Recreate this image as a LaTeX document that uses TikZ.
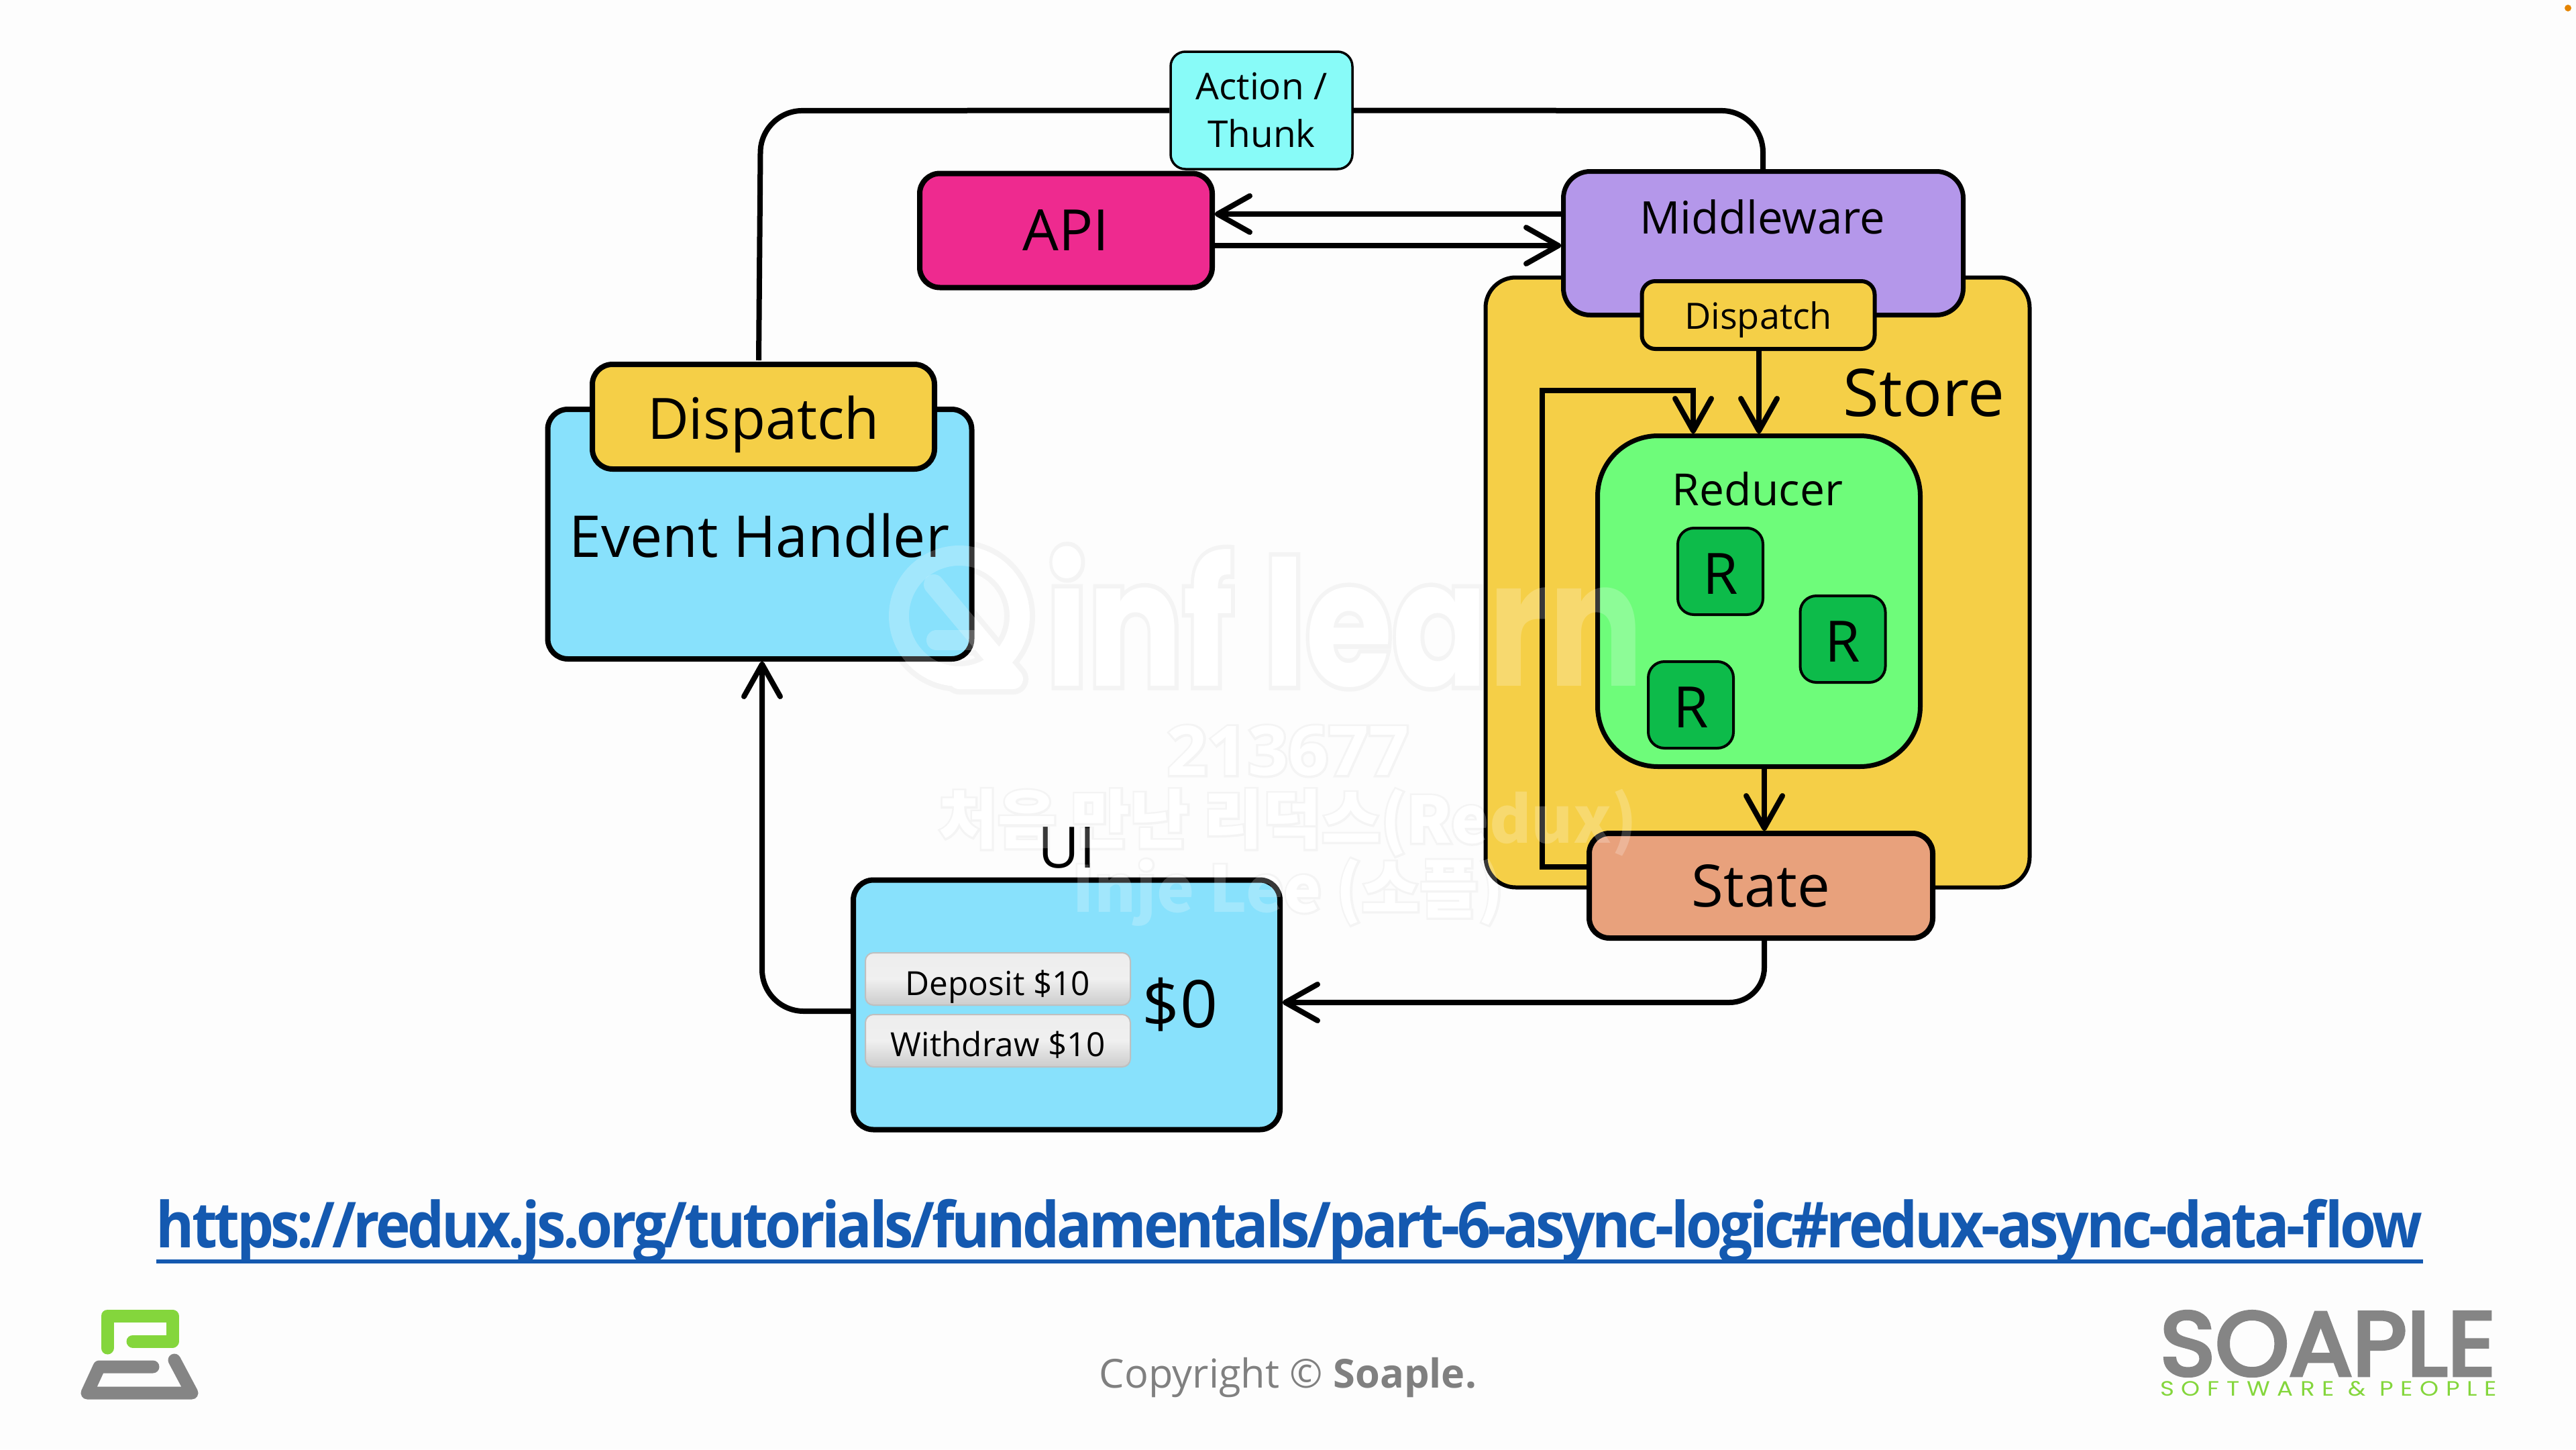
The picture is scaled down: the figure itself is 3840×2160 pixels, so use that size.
\documentclass[tikz,border=0pt]{standalone}
\usepackage{fontspec}
\setmainfont{Open Sans}
\newfontfamily\wmfont{Poppins}
\newfontfamily\wmhalo[BoldFeatures={FakeBold=5}]{Poppins}
\newfontfamily\krfont{Noto Sans CJK KR}
\newfontfamily\krhalo[BoldFeatures={FakeBold=6}]{Noto Sans CJK KR}
\newfontfamily\ophalo[BoldFeatures={FakeBold=6}]{Open Sans}
\newfontfamily\urlfont[LetterSpace=-5]{Open Sans}
\newfontfamily\sloganfont[LetterSpace=30]{Poppins}
\newfontfamily\soaplefont[FakeBold=4]{Poppins}
\usetikzlibrary{arrows.meta}
\definecolor{bgc}{HTML}{FDFDFD}
\definecolor{skyc}{HTML}{88E1FC}
\definecolor{yelc}{HTML}{F5CF47}
\definecolor{cyanc}{HTML}{88FBF8}
\definecolor{pinkc}{HTML}{EE2A8F}
\definecolor{purc}{HTML}{B497EA}
\definecolor{grnc}{HTML}{6EFC7A}
\definecolor{dgrnc}{HTML}{0DBB4A}
\definecolor{orgc}{HTML}{E8A17C}
\definecolor{urlc}{HTML}{1459B0}
\definecolor{logog}{HTML}{84D63C}
\definecolor{logoh}{HTML}{858585}
\definecolor{haloc}{HTML}{F4F4F4}
\newcommand\fsz[1]{\fontsize{#1pt}{1.2\dimexpr#1pt\relax}\selectfont}
% the four watermark lines; #1 is the text style, #2 #3 #4 the fonts, #5 the stroke of the mark
\newcommand\wmtexts[5]{%
 \draw[#1,line width=#5pt,line cap=round,line join=round,fill=none] (1430,918) circle (90pt);
 \draw[#1,line width=#5pt,line cap=round,line join=round] (1392,871) -- (1510,1012) -- (1430,1012);
 \draw[#1,line width=#5pt,line cap=round] (1396,954) -- (1450,954);
 \node[#1,inner sep=0pt] at (2005,919) {\resizebox{890pt}{208pt}{#2\bfseries inf learn}};
 \node[#1,inner sep=0pt] at (1920,1119) {\resizebox{360pt}{74pt}{#3\bfseries 213677}};
 \node[#1,inner sep=0pt] at (1920,1226) {\resizebox{1040pt}{!}{#4\bfseries 처음 만난 리덕스(Redux)}};
 \node[#1,inner sep=0pt] at (1920,1330) {\resizebox{643pt}{!}{#4\bfseries Inje Lee (소플)}};
}
\tikzset{
 box/.style={draw=black,rounded corners=#1,line width=8pt,inner sep=0pt,align=center,text=black},
 box/.default=30pt,
 lbl/.style={inner sep=0pt,text=black,align=center},
 btn/.style={draw=black!25,line width=2pt,rounded corners=12pt,inner sep=0pt,minimum width=395pt,minimum height=78pt,
   top color=white!93!black,bottom color=black!20,middle color=black!6,text=black,font=\fsz{49.5}},
 rbox/.style={draw=black,line width=4pt,rounded corners=24pt,fill=dgrnc,minimum width=127pt,minimum height=129pt,inner sep=0pt,font=\fsz{85},text=black,text height=67pt,text depth=0pt},
 con/.style={line width=8pt,draw=black},
 arr/.style={con,-{Straight Barb[length=48pt,width=54pt,round]}},
}
\begin{document}
\begin{tikzpicture}[x=1pt,y=-1pt]
\useasboundingbox (0,0) rectangle (3840,2160);
\fill[bgc] (0,0) rectangle (3840,2160);
\fill[orange!85!yellow!90!black] (3828,12) circle (5pt);
% watermark: soft surround and body on the page
\wmtexts{color=haloc,text=haloc}{\wmhalo}{\ophalo}{\krhalo}{46}
\wmtexts{color=white,text=white}{\wmfont}{}{\krfont}{30}
% Event handler
\node[box,fill=skyc,minimum width=632pt,minimum height=372pt] (evt) at (1132.5,796) {};
\node[box,fill=yelc,minimum width=510pt,minimum height=156pt,font=\fsz{85},text height=87pt,text depth=20pt] (dsp) at (1138,621) {Dispatch};
\node[lbl,font=\fsz{86}] (evtl) at (1132,798) {Event Handler};
% Store
\node[box=45pt,fill=yelc,line width=6pt,minimum width=811pt,minimum height=909pt] (store) at (2620,868) {};
\node[lbl,font=\fsz{98}] (storel) at (2868,585) {Store};
% Middleware
\node[box=40pt,fill=purc,line width=7pt,minimum width=596pt,minimum height=214pt] (mw) at (2628.5,362.5) {};
\node[lbl,font=\fsz{67}] (mwl) at (2627,323) {Middleware};
\node[box=20pt,fill=yelc,line width=6pt,minimum width=347pt,minimum height=101pt,font=\fsz{54},text height=55pt,text depth=13pt] (dsp2) at (2621,469.5) {Dispatch};
% API and action
\node[box,fill=pinkc,minimum width=436pt,minimum height=170pt,font=\fsz{85}] (api) at (1589,343.5) {API};
\node[box=22pt,fill=cyanc,line width=3.5pt,minimum width=271pt,minimum height=175pt,font=\fsz{55}] (act) at (1880.5,164.5) {Action /\\[5pt]Thunk};
% Reducer
\node[box=90pt,fill=grnc,line width=7pt,minimum width=481pt,minimum height=493pt] (red) at (2622,896) {};
\node[lbl,font=\fsz{66}] (redl) at (2620,729) {Reducer};
\node[rbox] (r1) at (2564.5,851.5) {R};
\node[rbox] (r2) at (2747,952.5) {R};
\node[rbox] (r3) at (2520.5,1050.5) {R};
% State
\node[box,fill=orgc,minimum width=512pt,minimum height=156pt,font=\fsz{87}] (state) at (2625,1320) {State};
% UI
\node[box,fill=skyc,minimum width=636pt,minimum height=372pt] (ui) at (1590,1497.5) {};
\node[lbl,font=\fsz{85}] (uil) at (1590,1264) {UI};
\node[btn,text height=60pt,text depth=12pt] (b1) at (1487.5,1459) {Deposit \$10};
\node[btn,text height=54pt,text depth=7pt] (b2) at (1487.5,1551) {Withdraw \$10};
\node[lbl,font=\fsz{98}] (bal) at (1759,1497) {\$0};
% connector way points
\coordinate (c1) at (1134,165);
\coordinate (c2) at (1131,537);
\coordinate (c3) at (2628,165);
\coordinate (c4) at (2628,255);
\coordinate (yup) at (0,319);
\coordinate (ydn) at (0,366);
\coordinate (xrd) at (2622,0);
\coordinate (xfb) at (2524,0);
\coordinate (c5) at (2299,582);
\coordinate (c6) at (2299,1292);
\coordinate (c7) at (2524,582);
\coordinate (xst) at (2630,0);
\coordinate (xev) at (1136,0);
\coordinate (yui) at (0,1507);
\coordinate (ybal) at (0,1494);
\coordinate (c8) at (1136,1507);
\coordinate (c9) at (2630,1494);
% connectors
\draw[con,rounded corners=62pt] (act.west) -- (c1) -- (c2);
\draw[con,rounded corners=62pt] (act.east) -- (c3) -- (c4);
\draw[arr] (mw.west |- yup) -- (api.east |- yup);
\draw[arr] (api.east |- ydn) -- (mw.west |- ydn);
\draw[arr] (dsp2.south -| xrd) -- (red.north -| xrd);
\draw[arr] (state.west |- c6) -- (c6) -- (c5) -- (c7) -- (red.north -| xfb);
\draw[arr] (red.south -| xst) -- (state.north -| xst);
\draw[arr,rounded corners=52pt] (state.south -| xst) -- (c9) -- (ui.east |- ybal);
\draw[arr,rounded corners=62pt] (ui.west |- yui) -- (c8) -- (evt.south -| xev);
% link
\node[inner sep=0pt,text=urlc,font=\urlfont\bfseries\fsz{104}] (url) at (1922,1835) {\resizebox*{3378pt}{95pt}{https://redux.js.org/tutorials/fundamentals/part-6-async-logic\#redux-async-data-flow}};
\coordinate (ulstart) at (233,1880);
\coordinate (ulend) at (3612,1880);
\draw[urlc,line width=6pt] (ulstart) -- (ulend);
% footer
\node[inner sep=0pt,text=black!50,font=\fsz{59.5}] (copy) at (1920,2053) {Copyright © \textbf{Soaple.}};
\draw[logog,line width=19pt,line cap=round,line join=round] (160,2009) -- (160,1961) -- (257,1961) -- (257,1999) -- (198,1999);
\draw[logoh,line width=19pt,line cap=round,line join=round] (228,2037) -- (148,2037) -- (130,2076) -- (286,2076) -- (260,2027);
\node[inner sep=0pt,text=logoh,font=\soaplefont] (soaple) at (3470,2002.5) {\resizebox{500pt}{95pt}{SOAPLE}};
\node[inner sep=0pt,text=logog,font=\sloganfont\fsz{30}] (slogan) at (3471,2070) {\resizebox{502pt}{22pt}{SOFTWARE \& PEOPLE}};
% watermark over the diagram
\wmtexts{color=white,text=white,opacity=.22}{\wmfont}{}{\krfont}{30}
\end{tikzpicture}
\end{document}
